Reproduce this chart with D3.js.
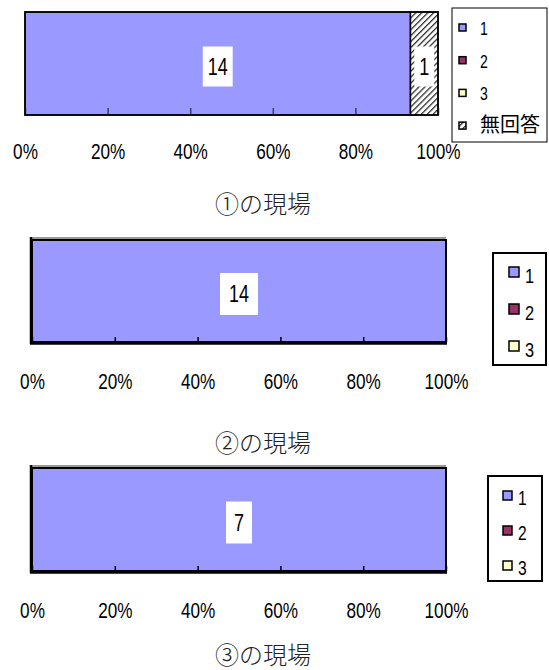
<!DOCTYPE html>
<html>
<head>
<meta charset="utf-8">
<script src="https://cdn.jsdelivr.net/npm/d3@7"></script>
<style>
body { margin: 0; background: #fff; }
</style>
</head>
<body>
<div id="chart"></div>
<script>
// data
const siteNames = ["①の現場", "②の現場", "③の現場"];
const seriesNames = ["1", "2", "3", "無回答"];
const site1Counts = [14, 0, 0, 1];
const site2Counts = [14, 0, 0];
const site3Counts = [7, 0, 0];
const pctTicks = [0, 0.2, 0.4, 0.6, 0.8, 1];

const seriesColors = ["#9999ff", "#993366", "#ffffcc", "url(#hatch)"];
const numFont = "'Liberation Sans',Arial,sans-serif";
const jpFont = "'Noto Sans CJK JP','Noto Sans',sans-serif";
const narrow = 0.78; // squeeze digits like the original narrow font

const svg = d3.select("#chart")
    .append("svg")
    .attr("width", 549)
    .attr("height", 670);

// hatch for 無回答
const pat = svg.append("defs").append("pattern")
    .attr("id", "hatch")
    .attr("patternUnits", "userSpaceOnUse")
    .attr("width", 4.2)
    .attr("height", 4.2)
    .attr("patternTransform", "rotate(45)");
pat.append("rect").attr("width", 4.2).attr("height", 4.2).attr("fill", "#fff");
pat.append("rect").attr("width", 1.3).attr("height", 4.2).attr("fill", "#333");

// layout of each panel
const layouts = [
    {x0: 25, x1: 438, y0: 12, y1: 115, labPad: 28, titleY: 213, depth: false,
     boxH: 40, boxPad: 5, tick: 7, tickColor: "#3d3d5c",
     legend: {x: 452, y: 8, w: 95, h: 134, sqX: 459, sq: 7, txtX: 480, first: 35, step: 32.7, sqOff: -11, border: 1, fs: 18}},
    {x0: 32, x1: 446, y0: 240, y1: 342, labPad: 31, titleY: 452, depth: true,
     boxH: 42, boxPad: 9, tick: 5, tickColor: "#000",
     legend: {x: 493, y: 253, w: 53, h: 112, sqX: 509, sq: 10, txtX: 525, first: 283, step: 37, sqOff: -16, border: 2, fs: 21}},
    {x0: 32, x1: 446, y0: 468, y1: 571, labPad: 31, titleY: 664, depth: true,
     boxH: 42, boxPad: 8, tick: 5, tickColor: "#000",
     legend: {x: 488, y: 476, w: 54, h: 105, sqX: 503, sq: 9, txtX: 518, first: 505, step: 35, sqOff: -14, border: 2, fs: 20}}
];

const allCounts = [site1Counts, site2Counts, site3Counts];

allCounts.forEach((counts, idx) => {
    mkStackBar(counts, siteNames[idx], layouts[idx]);
});

function mkStackBar(counts, title, lay) {
    const g = svg.append("g");
    const x = d3.scaleLinear().domain([0, 1]).range([lay.x0, lay.x1]);
    const total = d3.sum(counts);

    let acc = 0;
    const segs = counts.map((v, i) => {
        const s = {name: seriesNames[i], value: v, start: acc / total, end: (acc + v) / total, color: seriesColors[i]};
        acc += v;
        return s;
    });

    // depth effect of the 2nd/3rd panel
    if (lay.depth) {
        g.append("line")
            .attr("x1", lay.x0).attr("x2", lay.x1)
            .attr("y1", lay.y0 - 2).attr("y2", lay.y0 - 2)
            .attr("stroke", "#999").attr("stroke-width", 2);
    }

    g.selectAll("rect.seg")
        .data(segs.filter(d => d.value > 0))
        .enter()
        .append("rect")
        .attr("class", "seg")
        .attr("x", d => x(d.start))
        .attr("width", d => x(d.end) - x(d.start))
        .attr("y", lay.y0)
        .attr("height", lay.y1 - lay.y0)
        .attr("fill", d => d.color)
        .attr("stroke", "#000")
        .attr("stroke-width", 1.5);

    // inner ticks
    const tickAxis = g.append("g")
        .attr("transform", `translate(0,${lay.y1})`)
        .call(d3.axisBottom(x).tickValues(pctTicks).tickSizeInner(-lay.tick).tickSizeOuter(0).tickFormat(""));
    tickAxis.select(".domain").remove();
    tickAxis.selectAll("line").attr("stroke", lay.tickColor).attr("stroke-width", 1.5);

    // frame
    g.append("rect")
        .attr("x", lay.x0).attr("y", lay.y0)
        .attr("width", lay.x1 - lay.x0).attr("height", lay.y1 - lay.y0)
        .attr("fill", "none")
        .attr("stroke", "#000")
        .attr("stroke-width", lay.depth ? 2 : 1.5);
    if (lay.depth) {
        g.append("line")
            .attr("x1", lay.x0 - 1).attr("x2", lay.x0 - 1)
            .attr("y1", lay.y0 - 3).attr("y2", lay.y1 + 2)
            .attr("stroke", "#000").attr("stroke-width", 2.5);
        g.append("line")
            .attr("x1", lay.x0 - 2).attr("x2", lay.x1 + 1)
            .attr("y1", lay.y1 + 1.5).attr("y2", lay.y1 + 1.5)
            .attr("stroke", "#000").attr("stroke-width", 2.5);
    }

    // percent labels
    const labAxis = g.append("g")
        .attr("transform", `translate(0,${lay.y1})`)
        .call(d3.axisBottom(x).tickValues(pctTicks).tickSize(0).tickPadding(lay.labPad).tickFormat(d3.format(".0%")));
    labAxis.select(".domain").remove();
    labAxis.selectAll("text")
        .attr("font-family", numFont)
        .attr("font-size", "22px")
        .attr("transform", `scale(${narrow},1)`)
        .attr("fill", "#000");

    // value labels in white boxes
    const yc = (lay.y0 + lay.y1) / 2 + 3;
    const labs = g.selectAll("g.vlab")
        .data(segs.filter(d => d.value > 0))
        .enter()
        .append("g")
        .attr("class", "vlab")
        .attr("transform", d => `translate(${(x(d.start) + x(d.end)) / 2},${yc})`);
    labs.append("rect").attr("fill", "#fff");
    labs.append("text")
        .attr("text-anchor", "middle")
        .attr("y", 8)
        .attr("font-family", numFont)
        .attr("font-size", "23px")
        .attr("transform", `scale(${narrow},1)`)
        .text(d => d.value);
    labs.each(function() {
        const t = d3.select(this).select("text").node().getBBox();
        const w = t.width * narrow;
        d3.select(this).select("rect")
            .attr("x", -w / 2 - lay.boxPad)
            .attr("width", w + lay.boxPad * 2)
            .attr("y", -lay.boxH / 2)
            .attr("height", lay.boxH);
    });

    // title
    g.append("text")
        .attr("x", 263)
        .attr("y", lay.titleY)
        .attr("text-anchor", "middle")
        .attr("font-family", jpFont)
        .attr("font-weight", 300)
        .attr("font-size", "24px")
        .attr("fill", "#222")
        .text(title);

    // legend
    const L = lay.legend;
    g.append("rect")
        .attr("x", L.x).attr("y", L.y)
        .attr("width", L.w).attr("height", L.h)
        .attr("fill", "#fff")
        .attr("stroke", "#000")
        .attr("stroke-width", L.border);
    const items = g.selectAll("g.leg")
        .data(segs)
        .enter()
        .append("g")
        .attr("class", "leg")
        .attr("transform", (d, i) => `translate(0,${L.first + i * L.step})`);
    items.append("rect")
        .attr("x", L.sqX)
        .attr("y", L.sqOff)
        .attr("width", L.sq)
        .attr("height", L.sq)
        .attr("fill", d => d.color)
        .attr("stroke", "#000")
        .attr("stroke-width", 1.5);
    items.append("text")
        .attr("transform", d => /^[0-9]+$/.test(d.name)
            ? `translate(${L.txtX},0) scale(${narrow},1)`
            : `translate(${L.txtX},-1)`)
        .attr("font-family", d => /^[0-9]+$/.test(d.name) ? numFont : jpFont)
        .attr("font-size", d => /^[0-9]+$/.test(d.name) ? L.fs + "px" : "20px")
        .text(d => d.name);
}
</script>
</body>
</html>
